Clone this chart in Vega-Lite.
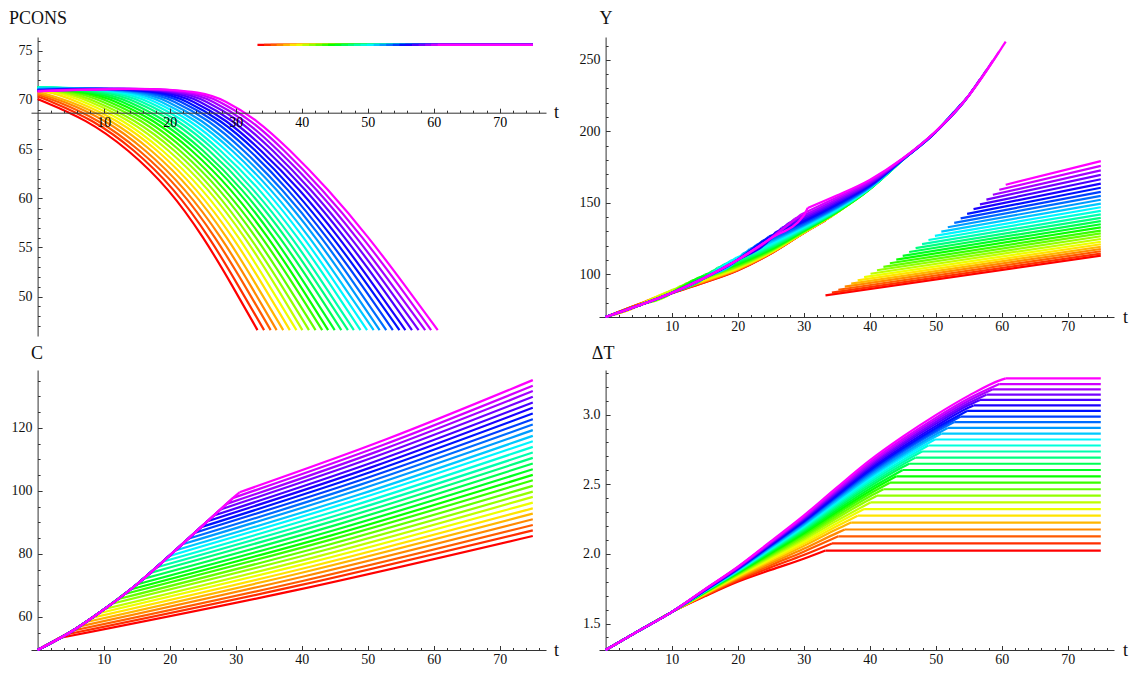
{
"$schema":"https://vega.github.io/schema/vega-lite/v6.json",
"background":"white",
"padding":{"left":8,"top":9,"right":5,"bottom":5},
"bounds":"flush",
"columns":2,
"spacing":{"row":34,"column":53},
"config":{"view":{"stroke":null},"font":"Liberation Serif",
 "axis":{"grid":false,"zindex":1,"labelFont":"Liberation Serif","titleFont":"Liberation Serif","labelFontSize":14,"titleFontSize":18,"titleFontWeight":"normal","domainColor":"#333","tickColor":"#333","labelColor":"#111","titleColor":"#111","labelFlush":false,"labelOverlap":false,"domainWidth":1,"tickWidth":1}},
"data":{"values":[
{"p":"P","k":0,"g":"a","t":[0,7.5,13.7,19.9,25.2,29.6,33.3],"v":[70.1,68,65,61,56,51,46.6]},
{"p":"P","k":0,"g":"b","t":[33.3,75],"v":[75.6,75.6]},
{"p":"P","k":1,"g":"a","t":[0,1.5,8.4,14.6,20.7,26.1,30.5,34.3],"v":[70.35,70,68,65,61,56,51,46.6]},
{"p":"P","k":1,"g":"b","t":[34.3,75],"v":[75.6,75.6]},
{"p":"P","k":2,"g":"a","t":[0,2.5,9.3,15.4,21.6,27,31.5,35.3],"v":[70.55,70,68,65,61,56,51,46.6]},
{"p":"P","k":2,"g":"b","t":[35.3,75],"v":[75.6,75.6]},
{"p":"P","k":3,"g":"a","t":[0,3.5,10.3,16.3,22.4,27.9,32.4,36.2],"v":[70.7,70,68,65,61,56,51,46.6]},
{"p":"P","k":3,"g":"b","t":[36.2,75],"v":[75.6,75.6]},
{"p":"P","k":4,"g":"a","t":[0,4.5,11.2,17.2,23.3,28.8,33.3,37.2],"v":[70.85,70,68,65,61,56,51,46.6]},
{"p":"P","k":4,"g":"b","t":[37.2,75],"v":[75.6,75.6]},
{"p":"P","k":5,"g":"a","t":[0,2,5.5,12.1,18.1,24.1,29.7,34.3,38.2],"v":[70.95,70.8,70,68,65,61,56,51,46.6]},
{"p":"P","k":5,"g":"b","t":[38.2,75],"v":[75.6,75.6]},
{"p":"P","k":6,"g":"a","t":[0,3,6.5,13,18.9,25,30.6,35.2,39.2],"v":[71.05,70.8,70,68,65,61,56,51,46.6]},
{"p":"P","k":6,"g":"b","t":[39.2,75],"v":[75.6,75.6]},
{"p":"P","k":7,"g":"a","t":[0,4,7.5,13.9,19.8,25.9,31.5,36.2,40.1],"v":[71.1,70.8,70,68,65,61,56,51,46.6]},
{"p":"P","k":7,"g":"b","t":[40.1,75],"v":[75.6,75.6]},
{"p":"P","k":8,"g":"a","t":[0,5,8.4,14.8,20.7,26.7,32.3,37.1,41.1],"v":[71.15,70.8,70,68,65,61,56,51,46.6]},
{"p":"P","k":8,"g":"b","t":[41.1,75],"v":[75.6,75.6]},
{"p":"P","k":9,"g":"a","t":[0,6,9.4,15.8,21.5,27.6,33.2,38,42.1],"v":[71.2,70.8,70,68,65,61,56,51,46.6]},
{"p":"P","k":9,"g":"b","t":[42.1,75],"v":[75.6,75.6]},
{"p":"P","k":10,"g":"a","t":[0,7,10.4,16.7,22.4,28.4,34.1,39,43.1],"v":[71.25,70.8,70,68,65,61,56,51,46.6]},
{"p":"P","k":10,"g":"b","t":[43.1,75],"v":[75.6,75.6]},
{"p":"P","k":11,"g":"a","t":[0,8,11.4,17.6,23.3,29.3,35,39.9,44],"v":[71.28,70.8,70,68,65,61,56,51,46.6]},
{"p":"P","k":11,"g":"b","t":[44,75],"v":[75.6,75.6]},
{"p":"P","k":12,"g":"a","t":[0,9,12.4,18.5,24.2,30.2,35.9,40.8,45],"v":[71.3,70.8,70,68,65,61,56,51,46.6]},
{"p":"P","k":12,"g":"b","t":[45,75],"v":[75.6,75.6]},
{"p":"P","k":13,"g":"a","t":[0,10,13.4,19.4,25,31,36.8,41.8,46],"v":[71.3,70.8,70,68,65,61,56,51,46.6]},
{"p":"P","k":13,"g":"b","t":[46,75],"v":[75.6,75.6]},
{"p":"P","k":14,"g":"a","t":[0,3,11,14.4,20.4,25.9,31.9,37.7,42.7,47],"v":[71.3,71.28,70.8,70,68,65,61,56,51,46.6]},
{"p":"P","k":14,"g":"b","t":[47,75],"v":[75.6,75.6]},
{"p":"P","k":15,"g":"a","t":[0,4,12,15.4,21.3,26.8,32.7,38.6,43.6,47.9],"v":[71.28,71.28,70.8,70,68,65,61,56,51,46.6]},
{"p":"P","k":15,"g":"b","t":[47.9,75],"v":[75.6,75.6]},
{"p":"P","k":16,"g":"a","t":[0,5,13,16.4,22.2,27.6,33.6,39.5,44.6,48.9],"v":[71.25,71.28,70.8,70,68,65,61,56,51,46.6]},
{"p":"P","k":16,"g":"b","t":[48.9,75],"v":[75.6,75.6]},
{"p":"P","k":17,"g":"a","t":[0,6,14,17.4,23.1,28.5,34.5,40.4,45.5,49.9],"v":[71.2,71.25,70.8,70,68,65,61,56,51,46.6]},
{"p":"P","k":17,"g":"b","t":[49.9,75],"v":[75.6,75.6]},
{"p":"P","k":18,"g":"a","t":[0,7,15,18.4,24,29.4,35.3,41.3,46.4,50.9],"v":[71.15,71.25,70.8,70,68,65,61,56,51,46.6]},
{"p":"P","k":18,"g":"b","t":[50.9,75],"v":[75.6,75.6]},
{"p":"P","k":19,"g":"a","t":[0,8,16,19.4,24.9,30.2,36.2,42.2,47.4,51.8],"v":[71.1,71.25,70.8,70,68,65,61,56,51,46.6]},
{"p":"P","k":19,"g":"b","t":[51.8,75],"v":[75.6,75.6]},
{"p":"P","k":20,"g":"a","t":[0,9,17,20.4,25.9,31.1,37,43.1,48.3,52.8],"v":[71.05,71.25,70.8,70,68,65,61,56,51,46.6]},
{"p":"P","k":20,"g":"b","t":[52.8,75],"v":[75.6,75.6]},
{"p":"P","k":21,"g":"a","t":[0,10,18,21.4,26.8,32,37.9,43.9,49.3,53.8],"v":[71,71.25,70.8,70,68,65,61,56,51,46.6]},
{"p":"P","k":21,"g":"b","t":[53.8,75],"v":[75.6,75.6]},
{"p":"P","k":22,"g":"a","t":[0,11,19,22.3,27.7,32.9,38.7,44.8,50.2,54.8],"v":[70.98,71.25,70.8,70,68,65,61,56,51,46.6]},
{"p":"P","k":22,"g":"b","t":[54.8,75],"v":[75.6,75.6]},
{"p":"P","k":23,"g":"a","t":[0,12,20,23.3,28.6,33.7,39.6,45.7,51.1,55.7],"v":[70.95,71.25,70.8,70,68,65,61,56,51,46.6]},
{"p":"P","k":23,"g":"b","t":[55.7,75],"v":[75.6,75.6]},
{"p":"P","k":24,"g":"a","t":[0,13,21,24.3,29.5,34.6,40.5,46.6,52.1,56.7],"v":[70.93,71.25,70.8,70,68,65,61,56,51,46.6]},
{"p":"P","k":24,"g":"b","t":[56.7,75],"v":[75.6,75.6]},
{"p":"P","k":25,"g":"a","t":[0,14,22,25.3,30.5,35.5,41.3,47.5,53,57.7],"v":[70.92,71.25,70.8,70,68,65,61,56,51,46.6]},
{"p":"P","k":25,"g":"b","t":[57.7,75],"v":[75.6,75.6]},
{"p":"P","k":26,"g":"a","t":[0,15,23,26.3,31.4,36.3,42.2,48.4,53.9,58.7],"v":[70.9,71.25,70.8,70,68,65,61,56,51,46.6]},
{"p":"P","k":26,"g":"b","t":[58.7,75],"v":[75.6,75.6]},
{"p":"P","k":27,"g":"a","t":[0,16,24,27.3,32.3,37.2,43,49.3,54.9,59.6],"v":[70.9,71.25,70.8,70,68,65,61,56,51,46.6]},
{"p":"P","k":27,"g":"b","t":[59.6,75],"v":[75.6,75.6]},
{"p":"P","k":28,"g":"a","t":[0,17,25,28.3,33.2,38.1,43.9,50.2,55.8,60.6],"v":[70.88,71.25,70.8,70,68,65,61,56,51,46.6]},
{"p":"P","k":28,"g":"b","t":[60.6,75],"v":[75.6,75.6]},

{"p":"Y","k":0,"g":"a","t":[0,3.3],"v":[70,75.9]},
{"p":"Y","k":0,"g":"b","t":[3.3,5,10,15,20,25,30,33.3],"v":[75.9,78.8,86.5,94.1,102.6,114.3,128.8,137.5]},
{"p":"Y","k":0,"g":"c","t":[33.3,75],"v":[85.1,113]},
{"p":"Y","k":1,"g":"a","t":[0,4.275],"v":[70,77.7]},
{"p":"Y","k":1,"g":"b","t":[4.275,5,10,15,20,25,30,34.275],"v":[77.7,78.9,86.8,94.4,102.8,114.4,128.8,140.7]},
{"p":"Y","k":1,"g":"c","t":[34.275,75],"v":[87.1,114.4]},
{"p":"Y","k":2,"g":"a","t":[0,5.25],"v":[70,79.5]},
{"p":"Y","k":2,"g":"b","t":[5.25,10,15,20,25,30,35.25],"v":[79.5,87.1,94.7,103.1,114.5,128.9,143.8]},
{"p":"Y","k":2,"g":"c","t":[35.25,75],"v":[89.1,116]},
{"p":"Y","k":3,"g":"a","t":[0,5,6.225],"v":[70,78,81.4]},
{"p":"Y","k":3,"g":"b","t":[6.225,10,15,20,25,30,35,36.225],"v":[81.4,87.4,95,103.3,114.7,128.9,143,147]},
{"p":"Y","k":3,"g":"c","t":[36.225,75],"v":[91.3,117.6]},
{"p":"Y","k":4,"g":"a","t":[0,5,7.2],"v":[70,78,83.3]},
{"p":"Y","k":4,"g":"b","t":[7.2,10,15,20,25,30,35,37.2],"v":[83.3,87.7,95.3,103.6,114.9,129,143,150.3]},
{"p":"Y","k":4,"g":"c","t":[37.2,75],"v":[93.4,119.2]},
{"p":"Y","k":5,"g":"a","t":[0,5,8.175],"v":[70,78,85.2]},
{"p":"Y","k":5,"g":"b","t":[8.175,10,15,20,25,30,35,38.175],"v":[85.2,88.1,95.7,104,115.1,129.1,143,153.5]},
{"p":"Y","k":5,"g":"c","t":[38.175,75],"v":[95.6,120.9]},
{"p":"Y","k":6,"g":"a","t":[0,5,9.15],"v":[70,78,87.1]},
{"p":"Y","k":6,"g":"b","t":[9.15,10,15,20,25,30,35,39.15],"v":[87.1,88.4,96.2,104.4,115.4,129.2,143.1,156.7]},
{"p":"Y","k":6,"g":"c","t":[39.15,75],"v":[97.9,122.7]},
{"p":"Y","k":7,"g":"a","t":[0,5,10.125],"v":[70,78,89.1]},
{"p":"Y","k":7,"g":"b","t":[10.125,15,20,25,30,35,40.125],"v":[89.1,96.6,104.8,115.7,129.3,143.1,160]},
{"p":"Y","k":7,"g":"c","t":[40.125,75],"v":[100.3,124.6]},
{"p":"Y","k":8,"g":"a","t":[0,5,10,11.1],"v":[70,78,86.8,91.2]},
{"p":"Y","k":8,"g":"b","t":[11.1,15,20,25,30,35,40,41.1],"v":[91.2,97.1,105.3,116,129.5,143.2,159.5,164]},
{"p":"Y","k":8,"g":"c","t":[41.1,75],"v":[102.7,126.5]},
{"p":"Y","k":9,"g":"a","t":[0,5,10,12.075],"v":[70,78,86.8,93.2]},
{"p":"Y","k":9,"g":"b","t":[12.075,15,20,25,30,35,40,42.075],"v":[93.2,97.6,105.8,116.4,129.7,143.3,159.5,168]},
{"p":"Y","k":9,"g":"c","t":[42.075,75],"v":[105.1,128.5]},
{"p":"Y","k":10,"g":"a","t":[0,5,10,13.05],"v":[70,78,86.8,95.5]},
{"p":"Y","k":10,"g":"b","t":[13.05,15,20,25,30,35,40,43.05],"v":[95.5,98.2,106.4,116.8,130,143.4,159.5,172]},
{"p":"Y","k":10,"g":"c","t":[43.05,75],"v":[107.6,130.5]},
{"p":"Y","k":11,"g":"a","t":[0,5,10,14.025],"v":[70,78,86.8,97.5]},
{"p":"Y","k":11,"g":"b","t":[14.025,15,20,25,30,35,40,44.025],"v":[97.5,98.8,107,117.3,130.3,143.5,159.5,176]},
{"p":"Y","k":11,"g":"c","t":[44.025,75],"v":[110.2,132.7]},
{"p":"Y","k":12,"g":"a","t":[0,5,10,15],"v":[70,78,86.8,99.5]},
{"p":"Y","k":12,"g":"b","t":[15,20,25,30,35,40,45],"v":[99.5,107.7,117.9,130.6,143.7,159.6,180]},
{"p":"Y","k":12,"g":"c","t":[45,75],"v":[112.8,134.9]},
{"p":"Y","k":13,"g":"a","t":[0,5,10,15,15.975],"v":[70,78,86.8,97.5,101.9]},
{"p":"Y","k":13,"g":"b","t":[15.975,20,25,30,35,40,45,45.975],"v":[101.9,108.4,118.4,130.9,144,159.7,180,183.8]},
{"p":"Y","k":13,"g":"c","t":[45.975,75],"v":[115.5,137.1]},
{"p":"Y","k":14,"g":"a","t":[0,5,10,15,16.95],"v":[70,78,86.8,97.5,104.4]},
{"p":"Y","k":14,"g":"b","t":[16.95,20,25,30,35,40,45,46.95],"v":[104.4,109.2,119.1,131.4,144.2,159.8,180,187.6]},
{"p":"Y","k":14,"g":"c","t":[46.95,75],"v":[118.2,139.4]},
{"p":"Y","k":15,"g":"a","t":[0,5,10,15,17.925],"v":[70,78,86.8,97.5,106.8]},
{"p":"Y","k":15,"g":"b","t":[17.925,20,25,30,35,40,45,47.925],"v":[106.8,110,119.8,131.8,144.5,159.9,180,191.4]},
{"p":"Y","k":15,"g":"c","t":[47.925,75],"v":[121,141.8]},
{"p":"Y","k":16,"g":"a","t":[0,5,10,15,18.9],"v":[70,78,86.8,97.5,109.3]},
{"p":"Y","k":16,"g":"b","t":[18.9,20,25,30,35,40,45,48.9],"v":[109.3,110.9,120.6,132.4,144.9,160,180,195.2]},
{"p":"Y","k":16,"g":"c","t":[48.9,75],"v":[123.9,144.3]},
{"p":"Y","k":17,"g":"a","t":[0,5,10,15,19.875],"v":[70,78,86.8,97.5,111.7]},
{"p":"Y","k":17,"g":"b","t":[19.875,25,30,35,40,45,49.875],"v":[111.7,121.4,132.9,145.4,160.2,180,199]},
{"p":"Y","k":17,"g":"c","t":[49.875,75],"v":[126.8,146.8]},
{"p":"Y","k":18,"g":"a","t":[0,5,10,15,20,20.85],"v":[70,78,86.8,97.5,110,114.6]},
{"p":"Y","k":18,"g":"b","t":[20.85,25,30,35,40,45,50,50.85],"v":[114.6,122.3,133.6,145.9,160.5,180.1,199.5,203.8]},
{"p":"Y","k":18,"g":"c","t":[50.85,75],"v":[129.8,149.4]},
{"p":"Y","k":19,"g":"a","t":[0,5,10,15,20,21.825],"v":[70,78,86.8,97.5,110,117.5]},
{"p":"Y","k":19,"g":"b","t":[21.825,25,30,35,40,45,50,51.825],"v":[117.5,123.3,134.3,146.4,160.7,180.1,199.5,208.8]},
{"p":"Y","k":19,"g":"c","t":[51.825,75],"v":[132.8,152.1]},
{"p":"Y","k":20,"g":"a","t":[0,5,10,15,20,22.8],"v":[70,78,86.8,97.5,110,120.4]},
{"p":"Y","k":20,"g":"b","t":[22.8,25,30,35,40,45,50,52.8],"v":[120.4,124.3,135,147,161.1,180.1,199.5,213.8]},
{"p":"Y","k":20,"g":"c","t":[52.8,75],"v":[135.9,154.8]},
{"p":"Y","k":21,"g":"a","t":[0,5,10,15,20,23.775],"v":[70,78,86.8,97.5,110,123.3]},
{"p":"Y","k":21,"g":"b","t":[23.775,25,30,35,40,45,50,53.775],"v":[123.3,125.5,135.9,147.7,161.4,180.2,199.5,218.8]},
{"p":"Y","k":21,"g":"c","t":[53.775,75],"v":[139,157.6]},
{"p":"Y","k":22,"g":"a","t":[0,5,10,15,20,24.75],"v":[70,78,86.8,97.5,110,126.3]},
{"p":"Y","k":22,"g":"b","t":[24.75,30,35,40,45,50,54.75],"v":[126.3,136.8,148.5,161.9,180.2,199.5,223.7]},
{"p":"Y","k":22,"g":"c","t":[54.75,75],"v":[142.2,160.5]},
{"p":"Y","k":23,"g":"a","t":[0,5,10,15,20,25,25.725],"v":[70,78,86.8,97.5,110,125,129.3]},
{"p":"Y","k":23,"g":"b","t":[25.725,30,35,40,45,50,55,55.725],"v":[129.3,137.8,149.4,162.4,180.3,199.6,225,229.9]},
{"p":"Y","k":23,"g":"c","t":[55.725,75],"v":[145.5,163.4]},
{"p":"Y","k":24,"g":"a","t":[0,5,10,15,20,25,26.7],"v":[70,78,86.8,97.5,110,125,132.4]},
{"p":"Y","k":24,"g":"b","t":[26.7,30,35,40,45,50,55,56.7],"v":[132.4,138.8,150.3,163,180.4,199.6,225,236.4]},
{"p":"Y","k":24,"g":"c","t":[56.7,75],"v":[148.8,166.4]},
{"p":"Y","k":25,"g":"a","t":[0,5,10,15,20,25,27.675],"v":[70,78,86.8,97.5,110,125,135.6]},
{"p":"Y","k":25,"g":"b","t":[27.675,30,35,40,45,50,55,57.675],"v":[135.6,140,151.3,163.6,180.5,199.7,225,242.9]},
{"p":"Y","k":25,"g":"c","t":[57.675,75],"v":[152.2,169.5]},
{"p":"Y","k":26,"g":"a","t":[0,5,10,15,20,25,28.65],"v":[70,78,86.8,97.5,110,125,138.7]},
{"p":"Y","k":26,"g":"b","t":[28.65,30,35,40,45,50,55,58.65],"v":[138.7,141.2,152.5,164.3,180.7,199.8,225,249.5]},
{"p":"Y","k":26,"g":"c","t":[58.65,75],"v":[155.6,172.6]},
{"p":"Y","k":27,"g":"a","t":[0,5,10,15,20,25,29.625],"v":[70,78,86.8,97.5,110,125,141.8]},
{"p":"Y","k":27,"g":"b","t":[29.625,35,40,45,50,55,59.625],"v":[141.8,153.7,165.1,180.8,199.9,225,256]},
{"p":"Y","k":27,"g":"c","t":[59.625,75],"v":[159.1,175.8]},
{"p":"Y","k":28,"g":"a","t":[0,5,10,15,20,25,30,30.6],"v":[70,78,86.8,97.5,110,125,141,146.3]},
{"p":"Y","k":28,"g":"b","t":[30.6,35,40,45,50,55,60,60.6],"v":[146.3,155,166,181,200,225,258.5,262.8]},
{"p":"Y","k":28,"g":"c","t":[60.6,75],"v":[162.6,179.1]},

{"p":"C","k":0,"g":"a","t":[0,3.3],"v":[49.5,53.3]},
{"p":"C","k":0,"g":"b","t":[3.3,39.15,75],"v":[53.3,68.5,85.7]},
{"p":"C","k":1,"g":"a","t":[0,4.275],"v":[49.5,54.4]},
{"p":"C","k":1,"g":"b","t":[4.275,39.6,75],"v":[54.4,70,87.5]},
{"p":"C","k":2,"g":"a","t":[0,5.25],"v":[49.5,55.6]},
{"p":"C","k":2,"g":"b","t":[5.25,40.1,75],"v":[55.6,71.4,89.2]},
{"p":"C","k":3,"g":"a","t":[0,5,6.225],"v":[49.5,55.2,56.9]},
{"p":"C","k":3,"g":"b","t":[6.225,40.6,75],"v":[56.9,73,91]},
{"p":"C","k":4,"g":"a","t":[0,5,7.2],"v":[49.5,55.2,58.3]},
{"p":"C","k":4,"g":"b","t":[7.2,41.1,75],"v":[58.3,74.6,92.8]},
{"p":"C","k":5,"g":"a","t":[0,5,8.175],"v":[49.5,55.2,59.7]},
{"p":"C","k":5,"g":"b","t":[8.175,41.6,75],"v":[59.7,76.1,94.5]},
{"p":"C","k":6,"g":"a","t":[0,5,9.15],"v":[49.5,55.2,61.1]},
{"p":"C","k":6,"g":"b","t":[9.15,42.1,75],"v":[61.1,77.7,96.3]},
{"p":"C","k":7,"g":"a","t":[0,5,10.125],"v":[49.5,55.2,62.5]},
{"p":"C","k":7,"g":"b","t":[10.125,42.6,75],"v":[62.5,79.3,98.1]},
{"p":"C","k":8,"g":"a","t":[0,5,10,11.1],"v":[49.5,55.2,62.3,64.1]},
{"p":"C","k":8,"g":"b","t":[11.1,43.1,75],"v":[64.1,81,99.8]},
{"p":"C","k":9,"g":"a","t":[0,5,10,12.075],"v":[49.5,55.2,62.3,65.6]},
{"p":"C","k":9,"g":"b","t":[12.075,43.5,75],"v":[65.6,82.6,101.6]},
{"p":"C","k":10,"g":"a","t":[0,5,10,13.05],"v":[49.5,55.2,62.3,67.2]},
{"p":"C","k":10,"g":"b","t":[13.05,44,75],"v":[67.2,84.3,103.4]},
{"p":"C","k":11,"g":"a","t":[0,5,10,14.025],"v":[49.5,55.2,62.3,68.7]},
{"p":"C","k":11,"g":"b","t":[14.025,44.5,75],"v":[68.7,85.9,105.1]},
{"p":"C","k":12,"g":"a","t":[0,5,10,15],"v":[49.5,55.2,62.3,70.3]},
{"p":"C","k":12,"g":"b","t":[15,45,75],"v":[70.3,87.6,106.9]},
{"p":"C","k":13,"g":"a","t":[0,5,10,15,15.975],"v":[49.5,55.2,62.3,70.3,72.1]},
{"p":"C","k":13,"g":"b","t":[15.975,45.5,75],"v":[72.1,89.4,108.7]},
{"p":"C","k":14,"g":"a","t":[0,5,10,15,16.95],"v":[49.5,55.2,62.3,70.3,73.9]},
{"p":"C","k":14,"g":"b","t":[16.95,46,75],"v":[73.9,91.2,110.5]},
{"p":"C","k":15,"g":"a","t":[0,5,10,15,17.925],"v":[49.5,55.2,62.3,70.3,75.7]},
{"p":"C","k":15,"g":"b","t":[17.925,46.5,75],"v":[75.7,93,112.2]},
{"p":"C","k":16,"g":"a","t":[0,5,10,15,18.9],"v":[49.5,55.2,62.3,70.3,77.5]},
{"p":"C","k":16,"g":"b","t":[18.9,47,75],"v":[77.5,94.8,114]},
{"p":"C","k":17,"g":"a","t":[0,5,10,15,19.875],"v":[49.5,55.2,62.3,70.3,79.3]},
{"p":"C","k":17,"g":"b","t":[19.875,47.4,75],"v":[79.3,96.6,115.8]},
{"p":"C","k":18,"g":"a","t":[0,5,10,15,20,20.85],"v":[49.5,55.2,62.3,70.3,79.5,81.1]},
{"p":"C","k":18,"g":"b","t":[20.85,47.9,75],"v":[81.1,98.3,117.5]},
{"p":"C","k":19,"g":"a","t":[0,5,10,15,20,21.825],"v":[49.5,55.2,62.3,70.3,79.5,83]},
{"p":"C","k":19,"g":"b","t":[21.825,48.4,75],"v":[83,100.2,119.3]},
{"p":"C","k":20,"g":"a","t":[0,5,10,15,20,22.8],"v":[49.5,55.2,62.3,70.3,79.5,84.8]},
{"p":"C","k":20,"g":"b","t":[22.8,48.9,75],"v":[84.8,102,121.1]},
{"p":"C","k":21,"g":"a","t":[0,5,10,15,20,23.775],"v":[49.5,55.2,62.3,70.3,79.5,86.7]},
{"p":"C","k":21,"g":"b","t":[23.775,49.4,75],"v":[86.7,103.8,122.8]},
{"p":"C","k":22,"g":"a","t":[0,5,10,15,20,24.75],"v":[49.5,55.2,62.3,70.3,79.5,88.5]},
{"p":"C","k":22,"g":"b","t":[24.75,49.9,75],"v":[88.5,105.6,124.6]},
{"p":"C","k":23,"g":"a","t":[0,5,10,15,20,25,25.725],"v":[49.5,55.2,62.3,70.3,79.5,89,90.4]},
{"p":"C","k":23,"g":"b","t":[25.725,50.4,75],"v":[90.4,107.4,126.4]},
{"p":"C","k":24,"g":"a","t":[0,5,10,15,20,25,26.7],"v":[49.5,55.2,62.3,70.3,79.5,89,92.2]},
{"p":"C","k":24,"g":"b","t":[26.7,50.9,75],"v":[92.2,109.2,128.1]},
{"p":"C","k":25,"g":"a","t":[0,5,10,15,20,25,27.675],"v":[49.5,55.2,62.3,70.3,79.5,89,94.1]},
{"p":"C","k":25,"g":"b","t":[27.675,51.3,75],"v":[94.1,111,129.9]},
{"p":"C","k":26,"g":"a","t":[0,5,10,15,20,25,28.65],"v":[49.5,55.2,62.3,70.3,79.5,89,95.9]},
{"p":"C","k":26,"g":"b","t":[28.65,51.8,75],"v":[95.9,112.8,131.7]},
{"p":"C","k":27,"g":"a","t":[0,5,10,15,20,25,29.625],"v":[49.5,55.2,62.3,70.3,79.5,89,97.8]},
{"p":"C","k":27,"g":"b","t":[29.625,52.3,75],"v":[97.8,114.6,133.4]},
{"p":"C","k":28,"g":"a","t":[0,5,10,15,20,25,30,30.6],"v":[49.5,55.2,62.3,70.3,79.5,89,98.5,99.6]},
{"p":"C","k":28,"g":"b","t":[30.6,52.8,75],"v":[99.6,116.4,135.2]},

{"p":"D","k":0,"g":"a","t":[0,5,10,15,20,25,30,33.3],"v":[1.31,1.447,1.582,1.695,1.8,1.885,1.965,2.024]},
{"p":"D","k":0,"g":"b","t":[33.3,75],"v":[2.024,2.024]},
{"p":"D","k":1,"g":"a","t":[0,5,10,15,20,25,30,34.275],"v":[1.31,1.447,1.582,1.699,1.809,1.903,1.992,2.075]},
{"p":"D","k":1,"g":"b","t":[34.275,75],"v":[2.075,2.075]},
{"p":"D","k":2,"g":"a","t":[0,5,10,15,20,25,30,35.25],"v":[1.31,1.447,1.582,1.703,1.818,1.919,2.016,2.126]},
{"p":"D","k":2,"g":"b","t":[35.25,75],"v":[2.126,2.126]},
{"p":"D","k":3,"g":"a","t":[0,5,10,15,20,25,30,35,36.225],"v":[1.31,1.447,1.582,1.707,1.825,1.932,2.036,2.149,2.175]},
{"p":"D","k":3,"g":"b","t":[36.225,75],"v":[2.175,2.175]},
{"p":"D","k":4,"g":"a","t":[0,5,10,15,20,25,30,35,37.2],"v":[1.31,1.447,1.582,1.71,1.831,1.945,2.056,2.176,2.225]},
{"p":"D","k":4,"g":"b","t":[37.2,75],"v":[2.225,2.225]},
{"p":"D","k":5,"g":"a","t":[0,5,10,15,20,25,30,35,38.175],"v":[1.31,1.447,1.582,1.712,1.837,1.956,2.072,2.198,2.274]},
{"p":"D","k":5,"g":"b","t":[38.175,75],"v":[2.274,2.274]},
{"p":"D","k":6,"g":"a","t":[0,5,10,15,20,25,30,35,39.15],"v":[1.31,1.447,1.582,1.715,1.842,1.966,2.087,2.218,2.322]},
{"p":"D","k":6,"g":"b","t":[39.15,75],"v":[2.322,2.322]},
{"p":"D","k":7,"g":"a","t":[0,5,10,15,20,25,30,35,40.125],"v":[1.31,1.447,1.582,1.717,1.847,1.975,2.101,2.237,2.37]},
{"p":"D","k":7,"g":"b","t":[40.125,75],"v":[2.37,2.37]},
{"p":"D","k":8,"g":"a","t":[0,5,10,15,20,25,30,35,40,41.1],"v":[1.31,1.447,1.582,1.719,1.852,1.984,2.114,2.256,2.391,2.418]},
{"p":"D","k":8,"g":"b","t":[41.1,75],"v":[2.418,2.418]},
{"p":"D","k":9,"g":"a","t":[0,5,10,15,20,25,30,35,40,42.075],"v":[1.31,1.447,1.582,1.721,1.856,1.992,2.126,2.272,2.412,2.464]},
{"p":"D","k":9,"g":"b","t":[42.075,75],"v":[2.464,2.464]},
{"p":"D","k":10,"g":"a","t":[0,5,10,15,20,25,30,35,40,43.05],"v":[1.31,1.447,1.582,1.723,1.86,1.999,2.138,2.288,2.432,2.511]},
{"p":"D","k":10,"g":"b","t":[43.05,75],"v":[2.511,2.511]},
{"p":"D","k":11,"g":"a","t":[0,5,10,15,20,25,30,35,40,44.025],"v":[1.31,1.447,1.582,1.725,1.863,2.006,2.148,2.302,2.45,2.557]},
{"p":"D","k":11,"g":"b","t":[44.025,75],"v":[2.557,2.557]},
{"p":"D","k":12,"g":"a","t":[0,5,10,15,20,25,30,35,40,45],"v":[1.31,1.447,1.582,1.726,1.867,2.013,2.158,2.315,2.467,2.602]},
{"p":"D","k":12,"g":"b","t":[45,75],"v":[2.602,2.602]},
{"p":"D","k":13,"g":"a","t":[0,5,10,15,20,25,30,35,40,45,45.975],"v":[1.31,1.447,1.582,1.728,1.87,2.019,2.168,2.329,2.484,2.623,2.647]},
{"p":"D","k":13,"g":"b","t":[45.975,75],"v":[2.647,2.647]},
{"p":"D","k":14,"g":"a","t":[0,5,10,15,20,25,30,35,40,45,46.95],"v":[1.31,1.447,1.582,1.729,1.873,2.025,2.176,2.341,2.499,2.641,2.691]},
{"p":"D","k":14,"g":"b","t":[46.95,75],"v":[2.691,2.691]},
{"p":"D","k":15,"g":"a","t":[0,5,10,15,20,25,30,35,40,45,47.925],"v":[1.31,1.447,1.582,1.73,1.876,2.03,2.185,2.352,2.514,2.658,2.735]},
{"p":"D","k":15,"g":"b","t":[47.925,75],"v":[2.735,2.735]},
{"p":"D","k":16,"g":"a","t":[0,5,10,15,20,25,30,35,40,45,48.9],"v":[1.31,1.447,1.582,1.732,1.879,2.035,2.193,2.363,2.527,2.673,2.778]},
{"p":"D","k":16,"g":"b","t":[48.9,75],"v":[2.778,2.778]},
{"p":"D","k":17,"g":"a","t":[0,5,10,15,20,25,30,35,40,45,49.875],"v":[1.31,1.447,1.582,1.733,1.881,2.04,2.2,2.373,2.54,2.689,2.821]},
{"p":"D","k":17,"g":"b","t":[49.875,75],"v":[2.821,2.821]},
{"p":"D","k":18,"g":"a","t":[0,5,10,15,20,25,30,35,40,45,50,50.85],"v":[1.31,1.447,1.582,1.734,1.884,2.045,2.207,2.383,2.553,2.704,2.842,2.863]},
{"p":"D","k":18,"g":"b","t":[50.85,75],"v":[2.863,2.863]},
{"p":"D","k":19,"g":"a","t":[0,5,10,15,20,25,30,35,40,45,50,51.825],"v":[1.31,1.447,1.582,1.735,1.886,2.05,2.214,2.393,2.565,2.718,2.858,2.904]},
{"p":"D","k":19,"g":"b","t":[51.825,75],"v":[2.904,2.904]},
{"p":"D","k":20,"g":"a","t":[0,5,10,15,20,25,30,35,40,45,50,52.8],"v":[1.31,1.447,1.582,1.736,1.889,2.055,2.222,2.403,2.578,2.733,2.875,2.946]},
{"p":"D","k":20,"g":"b","t":[52.8,75],"v":[2.946,2.946]},
{"p":"D","k":21,"g":"a","t":[0,5,10,15,20,25,30,35,40,45,50,53.775],"v":[1.31,1.447,1.582,1.737,1.891,2.059,2.228,2.411,2.588,2.745,2.888,2.986]},
{"p":"D","k":21,"g":"b","t":[53.775,75],"v":[2.986,2.986]},
{"p":"D","k":22,"g":"a","t":[0,5,10,15,20,25,30,35,40,45,50,54.75],"v":[1.31,1.447,1.582,1.738,1.893,2.063,2.233,2.419,2.599,2.757,2.902,3.026]},
{"p":"D","k":22,"g":"b","t":[54.75,75],"v":[3.026,3.026]},
{"p":"D","k":23,"g":"a","t":[0,5,10,15,20,25,30,35,40,45,50,55,55.725],"v":[1.31,1.447,1.582,1.739,1.895,2.067,2.24,2.428,2.611,2.77,2.917,3.05,3.066]},
{"p":"D","k":23,"g":"b","t":[55.725,75],"v":[3.066,3.066]},
{"p":"D","k":24,"g":"a","t":[0,5,10,15,20,25,30,35,40,45,50,55,56.7],"v":[1.31,1.447,1.582,1.741,1.897,2.072,2.247,2.438,2.623,2.785,2.933,3.068,3.105]},
{"p":"D","k":24,"g":"b","t":[56.7,75],"v":[3.105,3.105]},
{"p":"D","k":25,"g":"a","t":[0,5,10,15,20,25,30,35,40,45,50,55,57.675],"v":[1.31,1.447,1.582,1.742,1.9,2.076,2.254,2.447,2.634,2.797,2.947,3.083,3.143]},
{"p":"D","k":25,"g":"b","t":[57.675,75],"v":[3.143,3.143]},
{"p":"D","k":26,"g":"a","t":[0,5,10,15,20,25,30,35,40,45,50,55,58.65],"v":[1.31,1.447,1.582,1.743,1.902,2.08,2.26,2.456,2.645,2.811,2.962,3.099,3.181]},
{"p":"D","k":26,"g":"b","t":[58.65,75],"v":[3.181,3.181]},
{"p":"D","k":27,"g":"a","t":[0,5,10,15,20,25,30,35,40,45,50,55,59.625],"v":[1.31,1.447,1.582,1.744,1.904,2.084,2.266,2.464,2.656,2.823,2.976,3.115,3.219]},
{"p":"D","k":27,"g":"b","t":[59.625,75],"v":[3.219,3.219]},
{"p":"D","k":28,"g":"a","t":[0,5,10,15,20,25,30,35,40,45,50,55,60,60.6],"v":[1.31,1.447,1.582,1.745,1.907,2.09,2.275,2.476,2.671,2.841,2.996,3.136,3.251,3.26]},
{"p":"D","k":28,"g":"b","t":[60.6,75],"v":[3.26,3.26]}
]},
"concat":[
{"width":515,"height":299,
 "transform":[{"filter":{"field":"p","equal":"P"}},{"flatten":["t","v"]}],
 "mark":{"type":"line","interpolate":"basis","strokeWidth":2.2},
 "encoding":{
  "x":{"field":"t","type":"quantitative","scale":{"domain":[-1,77],"nice":false,"zero":false},
   "axis":{"values":[2,4,6,8,10,12,14,16,18,20,22,24,26,28,30,32,34,36,38,40,42,44,46,48,50,52,54,56,58,60,62,64,66,68,70,72,74,76],
    "labelExpr":"datum.value % 10 === 0 ? datum.label : ''",
    "tickSize":{"condition":{"test":"datum.value % 10 === 0","value":-4.5},"value":-2.5},
    "labelFont":"Liberation Serif","titleFont":"Liberation Serif","zindex":2,"labelColor":"#000",
    "offset":-223.3,"labelPadding":7,"title":"t","titleX":525,"titleY":0,"titleAlign":"center","titleBaseline":"middle","titleAngle":0}},
  "y":{"field":"v","type":"quantitative","scale":{"domain":[46,76.4],"nice":false,"zero":false},
   "axis":{"values":[47,48,49,50,51,52,53,54,55,56,57,58,59,60,61,62,63,64,65,66,67,68,69,70,71,72,73,74,75,76],
    "labelExpr":"datum.value % 5 === 0 ? datum.label : ''",
    "tickSize":{"condition":{"test":"datum.value % 5 === 0","value":-4.5},"value":-2.5},
    "labelFont":"Liberation Serif","titleFont":"Liberation Serif",
    "offset":-6.6,"labelPadding":10,"title":"PCONS","titleAngle":0,"titleAlign":"left","titleBaseline":"alphabetic","titleX":-29,"titleY":-14}},
  "color":{"field":"k","type":"quantitative","scale":{"domain":[0,5.6,11.2,16.8,22.4,28],"range":["#ff0000","#ffff00","#00ff00","#00ffff","#0000ff","#ff00ff"],"interpolate":"rgb"},"legend":null},
  "detail":{"field":"g"}}},
{"width":515,"height":280,
 "transform":[{"filter":{"field":"p","equal":"Y"}},{"flatten":["t","v"]}],
 "mark":{"type":"line","interpolate":"monotone","strokeWidth":2.2},
 "encoding":{
  "x":{"field":"t","type":"quantitative","scale":{"domain":[-1,77],"nice":false,"zero":false},
   "axis":{"values":[2,4,6,8,10,12,14,16,18,20,22,24,26,28,30,32,34,36,38,40,42,44,46,48,50,52,54,56,58,60,62,64,66,68,70,72,74,76],
    "labelExpr":"datum.value % 10 === 0 ? datum.label : ''",
    "tickSize":{"condition":{"test":"datum.value % 10 === 0","value":-4.5},"value":-2.5},
    "labelFont":"Liberation Serif","titleFont":"Liberation Serif",
    "labelPadding":7,"title":"t","titleX":526,"titleY":0,"titleAlign":"center","titleBaseline":"middle","titleAngle":0}},
  "y":{"field":"v","type":"quantitative","scale":{"domain":[70,266],"nice":false,"zero":false},
   "axis":{"values":[80,90,100,110,120,130,140,150,160,170,180,190,200,210,220,230,240,250,260],
    "labelExpr":"datum.value % 50 === 0 ? datum.label : ''",
    "tickSize":{"condition":{"test":"datum.value % 50 === 0","value":-4.5},"value":-2.5},
    "labelFont":"Liberation Serif","titleFont":"Liberation Serif",
    "offset":-6.6,"labelPadding":10,"title":"Y","titleAngle":0,"titleAlign":"center","titleBaseline":"alphabetic","titleX":0,"titleY":-14}},
  "color":{"field":"k","type":"quantitative","scale":{"domain":[0,5.6,11.2,16.8,22.4,28],"range":["#ff0000","#ffff00","#00ff00","#00ffff","#0000ff","#ff00ff"],"interpolate":"rgb"},"legend":null},
  "detail":{"field":"g"}}},
{"width":515,"height":280,
 "transform":[{"filter":{"field":"p","equal":"C"}},{"flatten":["t","v"]}],
 "mark":{"type":"line","interpolate":"monotone","strokeWidth":2.2},
 "encoding":{
  "x":{"field":"t","type":"quantitative","scale":{"domain":[-1,77],"nice":false,"zero":false},
   "axis":{"values":[2,4,6,8,10,12,14,16,18,20,22,24,26,28,30,32,34,36,38,40,42,44,46,48,50,52,54,56,58,60,62,64,66,68,70,72,74,76],
    "labelExpr":"datum.value % 10 === 0 ? datum.label : ''",
    "tickSize":{"condition":{"test":"datum.value % 10 === 0","value":-4.5},"value":-2.5},
    "labelFont":"Liberation Serif","titleFont":"Liberation Serif",
    "labelPadding":7,"title":"t","titleX":525,"titleY":0,"titleAlign":"center","titleBaseline":"middle","titleAngle":0}},
  "y":{"field":"v","type":"quantitative","scale":{"domain":[49.5,138.4],"nice":false,"zero":false},
   "axis":{"values":[50,55,60,65,70,75,80,85,90,95,100,105,110,115,120,125,130,135],
    "labelExpr":"datum.value % 20 === 0 ? datum.label : ''",
    "tickSize":{"condition":{"test":"datum.value % 20 === 0","value":-4.5},"value":-2.5},
    "labelFont":"Liberation Serif","titleFont":"Liberation Serif",
    "offset":-6.6,"labelPadding":10,"title":"C","titleAngle":0,"titleAlign":"center","titleBaseline":"alphabetic","titleX":-1,"titleY":-12}},
  "color":{"field":"k","type":"quantitative","scale":{"domain":[0,5.6,11.2,16.8,22.4,28],"range":["#ff0000","#ffff00","#00ff00","#00ffff","#0000ff","#ff00ff"],"interpolate":"rgb"},"legend":null},
  "detail":{"field":"g"}}},
{"width":515,"height":280,
 "transform":[{"filter":{"field":"p","equal":"D"}},{"flatten":["t","v"]}],
 "mark":{"type":"line","interpolate":"monotone","strokeWidth":2.2},
 "encoding":{
  "x":{"field":"t","type":"quantitative","scale":{"domain":[-1,77],"nice":false,"zero":false},
   "axis":{"values":[2,4,6,8,10,12,14,16,18,20,22,24,26,28,30,32,34,36,38,40,42,44,46,48,50,52,54,56,58,60,62,64,66,68,70,72,74,76],
    "labelExpr":"datum.value % 10 === 0 ? datum.label : ''",
    "tickSize":{"condition":{"test":"datum.value % 10 === 0","value":-4.5},"value":-2.5},
    "labelFont":"Liberation Serif","titleFont":"Liberation Serif",
    "labelPadding":7,"title":"t","titleX":526,"titleY":0,"titleAlign":"center","titleBaseline":"middle","titleAngle":0}},
  "y":{"field":"v","type":"quantitative","scale":{"domain":[1.31,3.32],"nice":false,"zero":false},
   "axis":{"values":[1.4,1.5,1.6,1.7,1.8,1.9,2.0,2.1,2.2,2.3,2.4,2.5,2.6,2.7,2.8,2.9,3.0,3.1,3.2,3.3],
    "format":".1f",
    "labelExpr":"abs(datum.value*2 - round(datum.value*2)) < 0.01 ? datum.label : ''",
    "tickSize":{"condition":{"test":"abs(datum.value*2 - round(datum.value*2)) < 0.01","value":-4.5},"value":-2.5},
    "labelFont":"Liberation Serif","titleFont":"Liberation Serif",
    "offset":-6.6,"labelPadding":10,"title":"ΔT","titleAngle":0,"titleAlign":"center","titleBaseline":"alphabetic","titleX":-3,"titleY":-12}},
  "color":{"field":"k","type":"quantitative","scale":{"domain":[0,5.6,11.2,16.8,22.4,28],"range":["#ff0000","#ffff00","#00ff00","#00ffff","#0000ff","#ff00ff"],"interpolate":"rgb"},"legend":null},
  "detail":{"field":"g"}}}
]
}
